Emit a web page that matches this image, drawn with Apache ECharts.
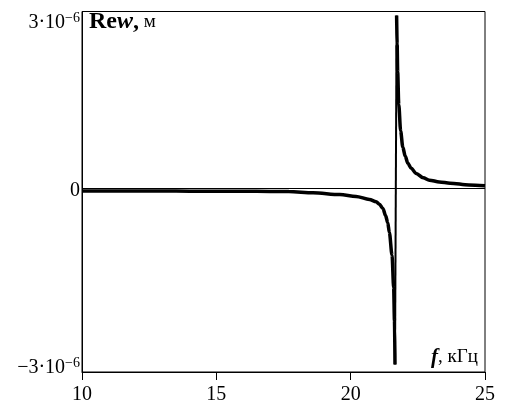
<!DOCTYPE html>
<html>
<head>
<meta charset="utf-8">
<script src="https://cdn.jsdelivr.net/npm/echarts@6/dist/echarts.min.js"></script>
<style>
html, body { margin: 0; padding: 0; background: #fff; }
#chart { width: 505px; height: 407px; }
</style>
</head>
<body>
<div id="chart"></div>
<script>
// частота f, кГц
const freq = [10, 11, 12, 13, 14, 15, 16, 17, 17.7, 18.6, 19.6, 20.2, 20.7, 20.95, 21.07, 21.2, 21.3, 21.38, 21.44,
  21.54, 21.6, 21.63, 21.65, 21.71, 21.73, 21.75, 21.79, 21.86, 21.94, 22.03, 22.13, 22.25, 22.44, 22.7, 22.93, 23.3, 23.7, 24.4, 25]
// Re w, в единицах 10^-6 м
const rew = [-0.04, -0.04, -0.04, -0.042, -0.043, -0.044, -0.045, -0.047, -0.05, -0.07, -0.1, -0.13, -0.18, -0.22, -0.26, -0.33, -0.45, -0.57, -0.73,
  -1.11, -1.65, -2.2, -2.93, 2.88, 2.4, 1.94, 1.4, 0.96, 0.69, 0.54, 0.42, 0.34, 0.25, 0.18, 0.14, 0.11, 0.09, 0.06, 0.045]

const xTicks = [10, 15, 20, 25]
const yRange = [-3.053, 2.947]
const yTicks = [yRange[0], 0, yRange[1]]
const yTickLabels = [
  '{m|−3·10}{s|−6}\n{g9| }',
  '{g4| }\n{m|0}',
  '{g22| }\n{m|3·10}{s|−6}'
]

const serif = '"Liberation Serif", "DejaVu Serif", serif'

// кривая делится на три части: спад, скачок через резонанс, хвост
const pts = freq.map((f, i) => [f, rew[i]])
const iMin = rew.indexOf(Math.min(...rew))
const iMax = rew.indexOf(Math.max(...rew))

const chart = echarts.init(document.getElementById('chart'))

const lineSeries = (data, width, smooth) => ({
  type: 'line',
  data: data,
  showSymbol: false,
  silent: true,
  animation: false,
  smooth: smooth,
  smoothMonotone: 'x',
  lineStyle: { color: '#000', width: width },
  z: 3
})

chart.setOption({
  backgroundColor: '#fff',
  animation: false,
  title: [
    {
      text: '{b|Re}{bi|w}{b|,}{r| м}',
      left: 89,
      top: 10,
      padding: 0,
      textStyle: {
        rich: {
          b: { fontFamily: serif, fontWeight: 'bold', fontSize: 24, color: '#000' },
          bi: { fontFamily: serif, fontWeight: 'bold', fontStyle: 'italic', fontSize: 24, color: '#000' },
          r: { fontFamily: serif, fontWeight: 'normal', fontSize: 19, color: '#000' }
        }
      }
    },
    {
      text: '{fi|f}{r|, кГц}',
      right: 27,
      top: 347,
      padding: 0,
      textStyle: {
        rich: {
          fi: { fontFamily: serif, fontWeight: 'bold', fontStyle: 'italic', fontSize: 21, color: '#000' },
          r: { fontFamily: serif, fontWeight: 'normal', fontSize: 19, color: '#000' }
        }
      }
    }
  ],
  grid: {
    left: 82,
    right: 20,
    top: 5,
    bottom: 35,
    show: true,
    borderColor: '#000',
    borderWidth: 1
  },
  xAxis: {
    type: 'value',
    min: xTicks[0],
    max: xTicks[xTicks.length - 1],
    interval: xTicks[1] - xTicks[0],
    axisLine: { show: true, onZero: false, lineStyle: { color: '#000', width: 1 } },
    axisTick: { show: true, length: 8, lineStyle: { color: '#000', width: 1 } },
    axisLabel: { color: '#000', fontFamily: serif, fontSize: 20, margin: 13 },
    splitLine: { show: false }
  },
  yAxis: {
    type: 'value',
    min: yRange[0],
    max: yRange[1],
    axisLine: { show: true, onZero: false, lineStyle: { color: '#000', width: 1 } },
    axisTick: { show: false },
    splitLine: { show: false },
    axisLabel: {
      customValues: yTicks,
      margin: 2,
      formatter: (v) => yTickLabels[yTicks.indexOf(v)] || '',
      rich: {
        m: { fontFamily: serif, fontSize: 20, lineHeight: 22, color: '#000' },
        s: { fontFamily: serif, fontSize: 14, lineHeight: 11, verticalAlign: 'top', color: '#000' },
        g4: { fontSize: 1, lineHeight: 4 },
        g9: { fontSize: 1, lineHeight: 9 },
        g22: { fontSize: 1, lineHeight: 22 }
      }
    }
  },
  series: [
    Object.assign(lineSeries(pts.slice(0, iMin + 1), 3.5, 0.3), {
      markLine: {
        silent: true,
        symbol: 'none',
        label: { show: false },
        lineStyle: { color: '#000', width: 1, type: 'solid' },
        data: [{ yAxis: 0 }]
      }
    }),
    lineSeries(pts.slice(iMin, iMax + 1), 2, false),
    lineSeries(pts.slice(iMax), 3.5, 0.3)
  ]
})
</script>
</body>
</html>
